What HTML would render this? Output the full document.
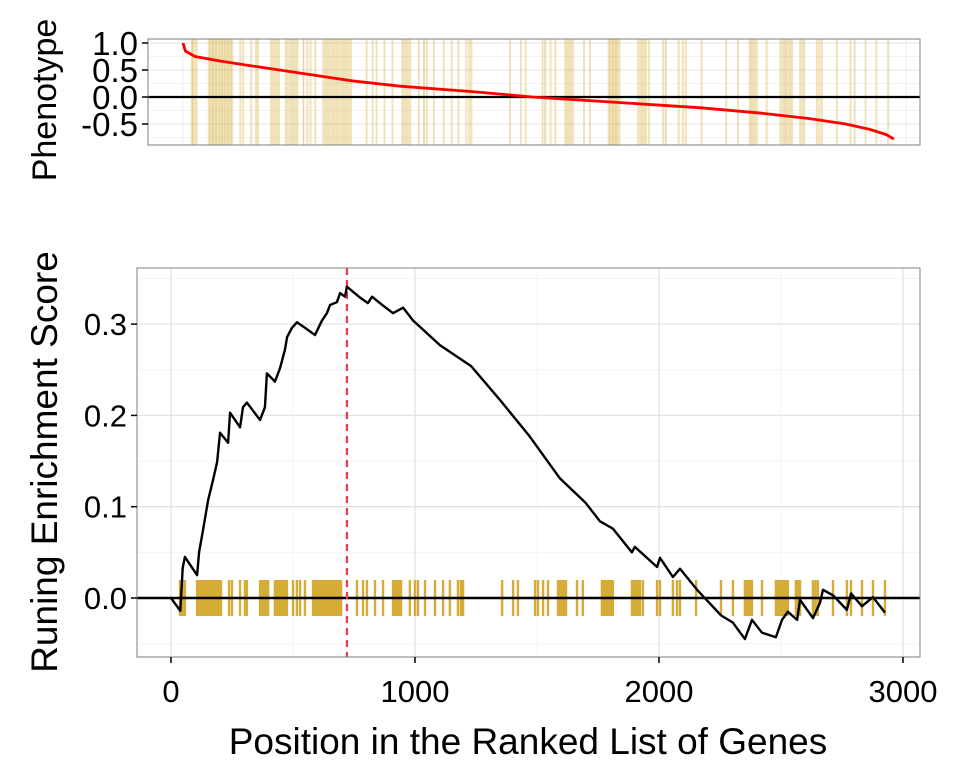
<!DOCTYPE html>
<html><head><meta charset="utf-8"><style>
body{margin:0;background:#fff;}
svg text{font-family:"Liberation Sans",sans-serif;fill:#000;}
</style></head><body>
<svg id="c" width="960" height="768" xmlns="http://www.w3.org/2000/svg"></svg>
<script>
const hits=[37,41,49,57,107,113,119,125,131,137,143,150,156,162,168,174,180,187,193,199,205,238,250,283,303,311,365,373,381,390,398,426,434,443,451,459,467,475,500,516,529,549,582,590,598,606,615,623,631,639,647,656,664,672,680,688,697,762,787,803,836,869,910,918,926,934,943,979,1000,1012,1041,1082,1115,1143,1176,1188,1197,1357,1402,1422,1492,1504,1525,1545,1586,1594,1602,1610,1619,1664,1688,1766,1772,1779,1785,1791,1797,1803,1811,1889,1898,1906,1914,1922,1934,1992,2004,2057,2074,2086,2152,2254,2303,2352,2358,2365,2373,2381,2422,2479,2488,2496,2504,2512,2520,2528,2561,2570,2578,2631,2641,2651,2713,2770,2787,2832,2877,2926];
const esX=[0,38,48,57,107,115,131,152,172,189,201,234,242,283,295,311,365,385,393,426,447,467,476,496,516,549,590,619,639,652,680,693,713,721,775,807,824,856,910,951,992,1102,1230,1348,1470,1594,1700,1758,1811,1889,1901,1930,1992,2004,2057,2086,2156,2254,2303,2352,2381,2422,2479,2504,2528,2566,2578,2631,2660,2672,2713,2770,2787,2832,2877,2926];
const esY=[0,-0.014,0.033,0.045,0.025,0.050,0.074,0.107,0.129,0.149,0.181,0.170,0.203,0.187,0.209,0.214,0.195,0.209,0.246,0.237,0.252,0.272,0.286,0.296,0.302,0.296,0.288,0.304,0.312,0.321,0.324,0.334,0.330,0.341,0.329,0.323,0.330,0.323,0.312,0.318,0.304,0.277,0.254,0.217,0.177,0.131,0.104,0.084,0.076,0.050,0.056,0.049,0.034,0.044,0.023,0.032,0.009,-0.019,-0.027,-0.045,-0.024,-0.038,-0.043,-0.024,-0.015,-0.024,-0.002,-0.022,-0.005,0.009,0.003,-0.013,0.005,-0.009,0.001,-0.016];
const phX=[0,10,50,150,250,400,550,700,900,1200,1450,1800,2150,2400,2600,2750,2850,2920,2950];
const phY=[1.0,0.85,0.75,0.67,0.6,0.5,0.4,0.3,0.2,0.1,0.0,-0.1,-0.2,-0.3,-0.4,-0.5,-0.6,-0.7,-0.78];
const xTicks=[0,1000,2000,3000];
const esTicks=[0,0.1,0.2,0.3];
const phTicks=[1.0,0.5,0.0,-0.5];
const peakX=721;

const NS='http://www.w3.org/2000/svg',svg=document.getElementById('c');
function mk(t,a,p){const e=document.createElementNS(NS,t);for(const k in a)e.setAttribute(k,a[k]);(p||svg).appendChild(e);return e;}
const B={l:137,r:920,t:268,b:657};
const bx=v=>171+v*0.244, by=v=>598-v*913;
const T={l:148,r:920,t:39,b:145};
const tx=v=>183+v*0.241, ty=v=>97-v*54;

let e=mk('rect',{x:B.l,y:B.t,width:B.r-B.l,height:B.b-B.t,fill:'#fff',stroke:'none'});

for(let i=-1;i<=7;i++){const v=i*0.05,maj=i%2===0;mk('line',{x1:B.l,x2:B.r,y1:by(v),y2:by(v),stroke:maj?'#e3e3e3':'#f3f3f3','stroke-width':maj?1.3:0.9});}
for(let v=-500;v<=3000;v+=500){const maj=v%1000===0;mk('line',{x1:bx(v),x2:bx(v),y1:B.t,y2:B.b,stroke:maj?'#e3e3e3':'#f3f3f3','stroke-width':maj?1.3:0.9});}
const hg=mk('g',{});
hits.forEach(h=>{const l=mk('line',{x1:bx(h),x2:bx(h),y1:580,y2:616,stroke:'#d4ac37','stroke-width':2.4},hg);});
e=mk('line',{x1:B.l,x2:B.r,y1:by(0),y2:by(0),stroke:'#000','stroke-width':2.4});
e=mk('line',{x1:bx(peakX),x2:bx(peakX),y1:B.t,y2:B.b,stroke:'#f0384a','stroke-width':2.2,'stroke-dasharray':'7,5'});
e=mk('polyline',{points:esX.map((x,i)=>bx(x)+','+by(esY[i])).join(' '),fill:'none',stroke:'#000','stroke-width':2.4,'stroke-linejoin':'round'});
mk('rect',{x:B.l,y:B.t,width:B.r-B.l,height:B.b-B.t,fill:'none',stroke:'#7f7f7f','stroke-width':1});
esTicks.forEach(v=>{mk('line',{x1:B.l-6,x2:B.l,y1:by(v),y2:by(v),stroke:'#000','stroke-width':1.5});const t=mk('text',{x:B.l-10,y:by(v)+11,'font-size':31,'text-anchor':'end'});t.textContent=v.toFixed(1);});
xTicks.forEach(v=>{mk('line',{x1:bx(v),x2:bx(v),y1:B.b,y2:B.b+6,stroke:'#000','stroke-width':1.5});const t=mk('text',{x:bx(v),y:702,'font-size':31,'text-anchor':'middle'});t.textContent=v;});
e=mk('text',{x:528,y:754,'font-size':37,'text-anchor':'middle'});e.textContent='Position in the Ranked List of Genes';
e=mk('text',{x:0,y:0,'font-size':37,'text-anchor':'middle',transform:'translate(57,462) rotate(-90)'});e.textContent='Runing Enrichment Score';

e=mk('rect',{x:T.l,y:T.t,width:T.r-T.l,height:T.b-T.t,fill:'#fff'});
for(let i=-3;i<=4;i++){const v=i*0.25,maj=i%2===0;mk('line',{x1:T.l,x2:T.r,y1:ty(v),y2:ty(v),stroke:maj?'#e3e3e3':'#f3f3f3','stroke-width':1});}
for(let v=0;v<=3000;v+=500){mk('line',{x1:tx(v),x2:tx(v),y1:T.t,y2:T.b,stroke:'#ececec','stroke-width':1});}
const tg=mk('g',{});
hits.forEach(h=>{const l=mk('line',{x1:tx(h),x2:tx(h),y1:T.t,y2:T.b,stroke:'#d4ac37','stroke-width':2,'stroke-opacity':0.35},tg);});
mk('line',{x1:T.l,x2:T.r,y1:ty(0),y2:ty(0),stroke:'#000','stroke-width':2.2});
e=mk('polyline',{points:phX.map((x,i)=>tx(x)+','+ty(phY[i])).join(' '),fill:'none',stroke:'#ff0000','stroke-width':2.8});
mk('rect',{x:T.l,y:T.t,width:T.r-T.l,height:T.b-T.t,fill:'none',stroke:'#7f7f7f','stroke-width':1});
phTicks.forEach(v=>{mk('line',{x1:T.l-6,x2:T.l,y1:ty(v),y2:ty(v),stroke:'#000','stroke-width':1.5});const t=mk('text',{x:T.l-10,y:ty(v)+12,'font-size':33,'text-anchor':'end'});t.textContent=v.toFixed(1);});
e=mk('text',{x:0,y:0,'font-size':34,'text-anchor':'middle',transform:'translate(56,100) rotate(-90)'});e.textContent='Phenotype';
</script>
</body></html>
